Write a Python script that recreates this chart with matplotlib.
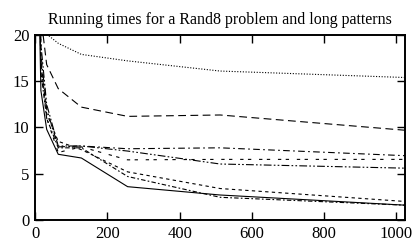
import matplotlib
matplotlib.use("Agg")
from matplotlib import pyplot as plt

plt.rcParams['font.family'] = ['Liberation Serif', 'DejaVu Serif']

# number of patterns (x) and running times (y) per method
sizes = [8, 16, 32, 64, 128, 256, 512, 1024]
t_solid = [30.0, 14.0, 9.8, 7.1, 6.7, 3.6, 2.7, 1.6]
t_longdash = [40.0, 22.0, 16.8, 14.2, 12.2, 11.2, 11.35, 9.7]
t_shortdash = [36.0, 17.0, 11.5, 8.5, 7.6, 5.2, 3.4, 2.0]
t_dotted = [45.0, 22.0, 20.1, 19.1, 17.9, 17.2, 16.1, 15.4]
t_dashdot_hi = [38.0, 18.0, 12.0, 7.9, 8.0, 7.7, 7.8, 6.95]
t_dash_mid = [37.0, 17.5, 11.0, 7.3, 7.9, 6.5, 6.55, 6.55]
t_dashdotdot = [39.0, 19.0, 12.5, 8.0, 8.0, 7.45, 6.05, 5.6]
t_dashdot_lo = [35.0, 16.0, 11.0, 7.8, 7.8, 4.7, 2.45, 1.6]

fig = plt.figure(figsize=(4.13, 2.48), dpi=100)
ax = fig.add_axes([0.085, 0.113, 0.896, 0.746])

lw = 0.8
ax.plot(sizes, t_solid, color='black', lw=lw)
ax.plot(sizes, t_longdash, color='black', lw=lw, dashes=(7, 4))
ax.plot(sizes, t_shortdash, color='black', lw=lw, dashes=(3, 3))
ax.plot(sizes, t_dotted, color='black', lw=lw, dashes=(1, 1.5))
ax.plot(sizes, t_dashdot_hi, color='black', lw=lw, dashes=(6, 3, 1.5, 3))
ax.plot(sizes, t_dash_mid, color='black', lw=lw, dashes=(3, 4, 3, 7))
ax.plot(sizes, t_dashdotdot, color='black', lw=lw, dashes=(7, 2, 1.5, 2, 1.5, 2))
ax.plot(sizes, t_dashdot_lo, color='black', lw=lw, dashes=(4, 2, 1.5, 2))

ax.set_xlim(0, 1024)
ax.set_ylim(0, 20)
ax.set_xticks([0, 200, 400, 600, 800, 1000])
ax.set_yticks([0, 5, 10, 15, 20])
ax.tick_params(direction='in', length=6, width=1, top=True, right=True,
               labelsize=12, pad=4)
for s in ax.spines.values():
    s.set_linewidth(1.4)

ax.set_title("Running times for a Rand8 problem and long patterns",
             fontsize=11.5, pad=8)

fig.savefig("out.png", dpi=100)
